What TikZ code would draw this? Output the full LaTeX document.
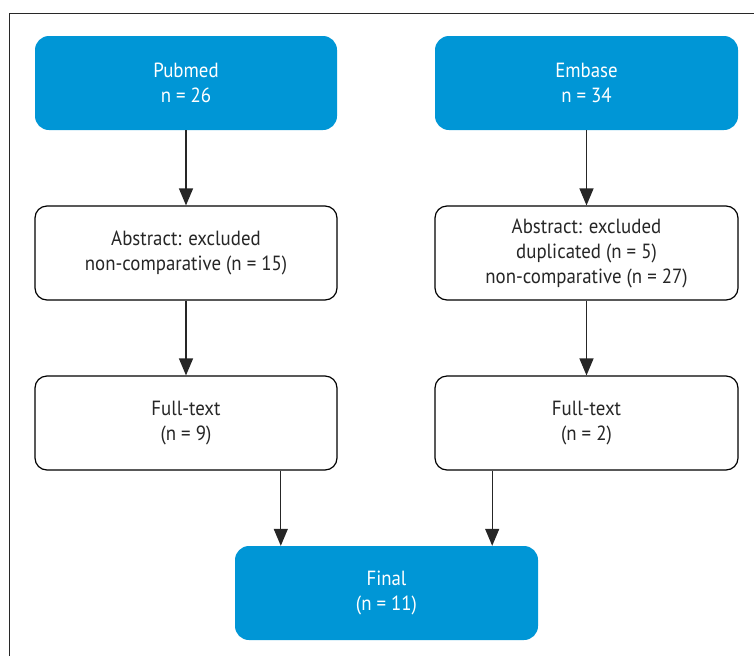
\documentclass[tikz,border=0pt]{standalone}
\usepackage{fontspec}
\setmainfont{PT Sans}[FakeStretch=0.92]
\usetikzlibrary{arrows.meta}
\definecolor{boxblue}{RGB}{0,150,214}
\definecolor{framegray}{RGB}{40,40,40}
\tikzset{
  bluebox/.style={fill=boxblue, draw=none, rounded corners=14pt, text=white, align=center, font=\fontsize{20.5}{25}\selectfont},
  whitebox/.style={fill=white, draw=black, line width=1.2pt, rounded corners=12pt, align=center, font=\fontsize{20.5}{25}\selectfont, text=black!85},
  arr/.style={draw=black!85, line width=1.3pt, -{Triangle[width=14pt,length=17pt]}}
}
\begin{document}
\begin{tikzpicture}[x=1pt,y=-1pt]
\useasboundingbox (0,0) rectangle (754,656);
\draw[framegray, line width=1.5pt] (9.5,656) -- (9.5,13.5) -- (754,13.5);
% boxes
\node[bluebox, minimum width=302pt, minimum height=94pt] (pub) at (186,83) {Pubmed\\n = 26};
\node[bluebox, minimum width=303pt, minimum height=94pt] (emb) at (586.5,83) {Embase\\n = 34};
\node[whitebox, minimum width=302pt, minimum height=94pt] (absL) at (186,253) {Abstract: excluded\\non-comparative (n = 15)};
\node[whitebox, minimum width=303pt, minimum height=94pt] (absR) at (586.5,253) {Abstract: excluded\\duplicated (n = 5)\\non-comparative (n = 27)};
\node[whitebox, minimum width=302pt, minimum height=94pt] (ftL) at (186,423) {Full-text\\(n = 9)};
\node[whitebox, minimum width=303pt, minimum height=94pt] (ftR) at (586.5,423) {Full-text\\(n = 2)};
\node[bluebox, minimum width=303pt, minimum height=94pt] (fin) at (386.5,593) {Final\\(n = 11)};
% arrows
\draw[arr] (pub.south) -- (absL.north);
\draw[arr] (emb.south) -- (absR.north);
\draw[arr] (absL.south) -- (ftL.north);
\draw[arr] (absR.south) -- (ftR.north);
\draw[arr] (ftL.south -| fin.north west) ++(46,0) coordinate (a1) -- (a1 |- fin.north);
\draw[arr] (ftR.south -| fin.north east) ++(-46,0) coordinate (a2) -- (a2 |- fin.north);
\end{tikzpicture}
\end{document}
